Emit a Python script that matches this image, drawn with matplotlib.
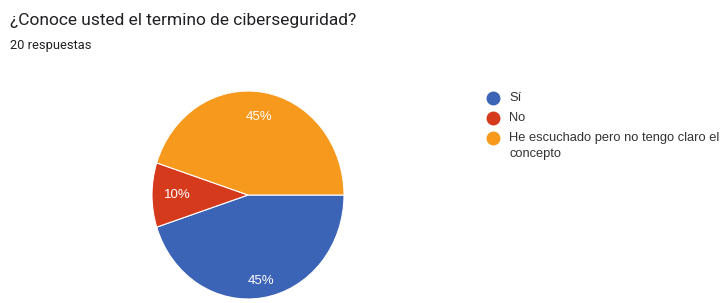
import numpy as np
import matplotlib.pyplot as plt
from matplotlib.lines import Line2D

title = '¿Conoce usted el termino de ciberseguridad?'
subtitle = '20 respuestas'
labels = ['Sí', 'No', 'He escuchado pero no tengo claro el\nconcepto']
counts = [9, 2, 9]
colors = ['#3b63b6', '#d63a1c', '#f6991c']

W, H = 727, 303
fig = plt.figure(figsize=(W / 100, H / 100), dpi=100)
fig.patch.set_facecolor('white')

fig.text(10 / W, 1 - 21 / H, title, fontsize=12.5, family='Roboto',
         color='#202124', va='center', ha='left')
fig.text(10 / W, 1 - 45 / H, subtitle, fontsize=9.3, family='Roboto',
         color='#202124', va='center', ha='left')

# pie is slightly squashed in the reference: rx ~96 px, ry ~104 px
cx, cy, rx, ry = 248, 195, 96, 104
ax = fig.add_axes([(cx - rx) / W, (H - cy - ry) / H, 2 * rx / W, 2 * ry / H])
wedges, texts, autotexts = ax.pie(
    counts, colors=colors, startangle=0, counterclock=False,
    autopct='%1.0f%%', pctdistance=0.8, radius=1,
    wedgeprops=dict(edgecolor='white', linewidth=0.8),
    textprops=dict(color='white', fontsize=9.5, family='Liberation Sans'))
# nudge the percent labels to where the reference puts them
for w, t, d in zip(wedges, autotexts, [0.84, 0.74, 0.76]):
    ang = np.deg2rad((w.theta1 + w.theta2) / 2)
    t.set_position((d * np.cos(ang), d * np.sin(ang)))
ax.set_aspect('auto')
ax.set_xlim(-1, 1)
ax.set_ylim(-1, 1)
ax.axis('off')

# legend drawn by hand so the dot lines up with the first text line
leg_y = [98, 118, 138]
for lab, col, y in zip(labels, colors, leg_y):
    fig.add_artist(Line2D([493 / W], [1 - y / H], marker='o', markersize=9,
                          color=col, linestyle='none', transform=fig.transFigure))
    fig.text(509 / W, 1 - (y - 6) / H, lab, fontsize=9.3, family='Liberation Sans',
             color='#333333', va='top', ha='left', linespacing=1.5)

fig.savefig('out.png', dpi=100)
